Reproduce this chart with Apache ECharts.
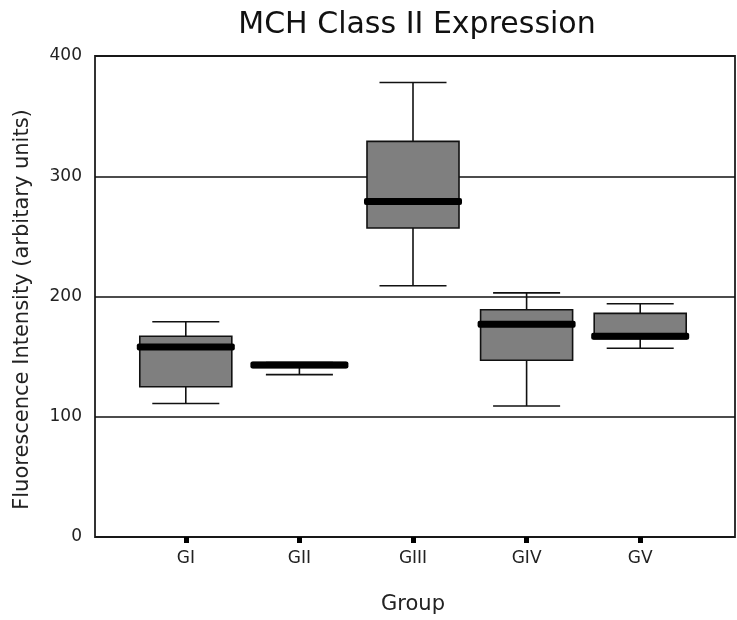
<!DOCTYPE html>
<html>
<head>
<meta charset="utf-8">
<script src="https://cdn.jsdelivr.net/npm/echarts@6/dist/echarts.min.js"></script>
<style>html,body{margin:0;padding:0;background:#fff}#c{width:737px;height:620px}</style>
</head>
<body>
<div id="c"></div>
<script>
var categories = ['GI', 'GII', 'GIII', 'GIV', 'GV'];
var mins    = [111, 135, 209, 109, 157];
var q1s     = [125, 141, 257, 147, 165];
var medians = [158, 143, 279, 177, 167];
var q3s     = [167, 145, 329, 189, 186];
var maxs    = [179, 145, 378, 203, 194];
var yTicks  = [0, 100, 200, 300, 400];

var boxData = categories.map(function (c, i) {
  return [i, mins[i], q1s[i], medians[i], q3s[i], maxs[i]];
});

var FONT = 'DejaVu Sans';
var chart = echarts.init(document.getElementById('c'), null, {renderer: 'canvas'});

chart.setOption({
  animation: false,
  backgroundColor: '#fff',
  title: {
    text: 'MCH Class II Expression',
    left: 412, top: 5, textAlign: 'center',
    textStyle: {fontFamily: FONT, fontSize: 30, fontWeight: 'normal', color: '#111'}
  },
  grid: [
    {left: 95, right: 2, top: 56, bottom: 83, show: true, borderColor: '#333', borderWidth: 2,
      backgroundColor: 'transparent', outerBoundsMode: 'none', containLabel: false},
    {left: 129, right: 40, top: 56, bottom: 83, outerBoundsMode: 'none', containLabel: false}
  ],
  xAxis: [
    {gridIndex: 0, type: 'value', min: 0, max: 1, show: false},
    {
      gridIndex: 1, type: 'category', data: categories, boundaryGap: true,
      axisLine: {show: false},
      axisTick: {show: true, alignWithLabel: true, length: 6, lineStyle: {color: '#000', width: 5}},
      axisLabel: {margin: 13, fontFamily: FONT, fontSize: 17, color: '#222'},
      name: 'Group', nameLocation: 'middle', nameGap: 57,
      nameTextStyle: {fontFamily: FONT, fontSize: 21, color: '#222'}
    }
  ],
  yAxis: [
    {
      gridIndex: 0, type: 'value', min: 0, max: 400, interval: 100,
      axisLine: {show: false}, axisTick: {show: false},
      axisLabel: {
        margin: 13, fontFamily: FONT, fontSize: 17, color: '#222',
        formatter: function (v) { return yTicks.indexOf(v) >= 0 ? String(v) : ''; }
      },
      splitLine: {show: true, lineStyle: {color: '#111', width: 1.6}},
      name: 'Fluorescence Intensity (arbitary units)', nameLocation: 'middle', nameGap: 62,
      nameTextStyle: {fontFamily: FONT, fontSize: 21, color: '#222', padding: [0, 26, 0, 0]}
    },
    {gridIndex: 1, type: 'value', min: 0, max: 400, show: false}
  ],
  series: [{
    type: 'custom',
    xAxisIndex: 1, yAxisIndex: 1,
    data: boxData,
    renderItem: function (params, api) {
      var x = api.value(0);
      var pMin = api.coord([x, api.value(1)]);
      var pQ1 = api.coord([x, api.value(2)]);
      var pMed = api.coord([x, api.value(3)]);
      var pQ3 = api.coord([x, api.value(4)]);
      var pMax = api.coord([x, api.value(5)]);
      var band = api.size([1, 0])[0];
      var bw = band * 0.81, cw = band * 0.59, mw = bw + 6;
      var cx = pMed[0];
      var lineStyle = {stroke: '#111', lineWidth: 1.6};
      return {
        type: 'group',
        children: [
          {type: 'line', shape: {x1: cx, y1: pMax[1], x2: cx, y2: pQ3[1]}, style: lineStyle},
          {type: 'line', shape: {x1: cx, y1: pMin[1], x2: cx, y2: pQ1[1]}, style: lineStyle},
          {type: 'line', shape: {x1: cx - cw / 2, y1: pMax[1], x2: cx + cw / 2, y2: pMax[1]}, style: lineStyle},
          {type: 'line', shape: {x1: cx - cw / 2, y1: pMin[1], x2: cx + cw / 2, y2: pMin[1]}, style: lineStyle},
          {type: 'rect', shape: {x: cx - bw / 2, y: pQ3[1], width: bw, height: pQ1[1] - pQ3[1]},
            style: {fill: '#7f7f7f', stroke: '#111', lineWidth: 1.6}},
          {type: 'rect', shape: {x: cx - mw / 2, y: pMed[1] - 3.5, width: mw, height: 7, r: 2},
            style: {fill: '#000'}}
        ]
      };
    }
  }]
});
</script>
</body>
</html>
